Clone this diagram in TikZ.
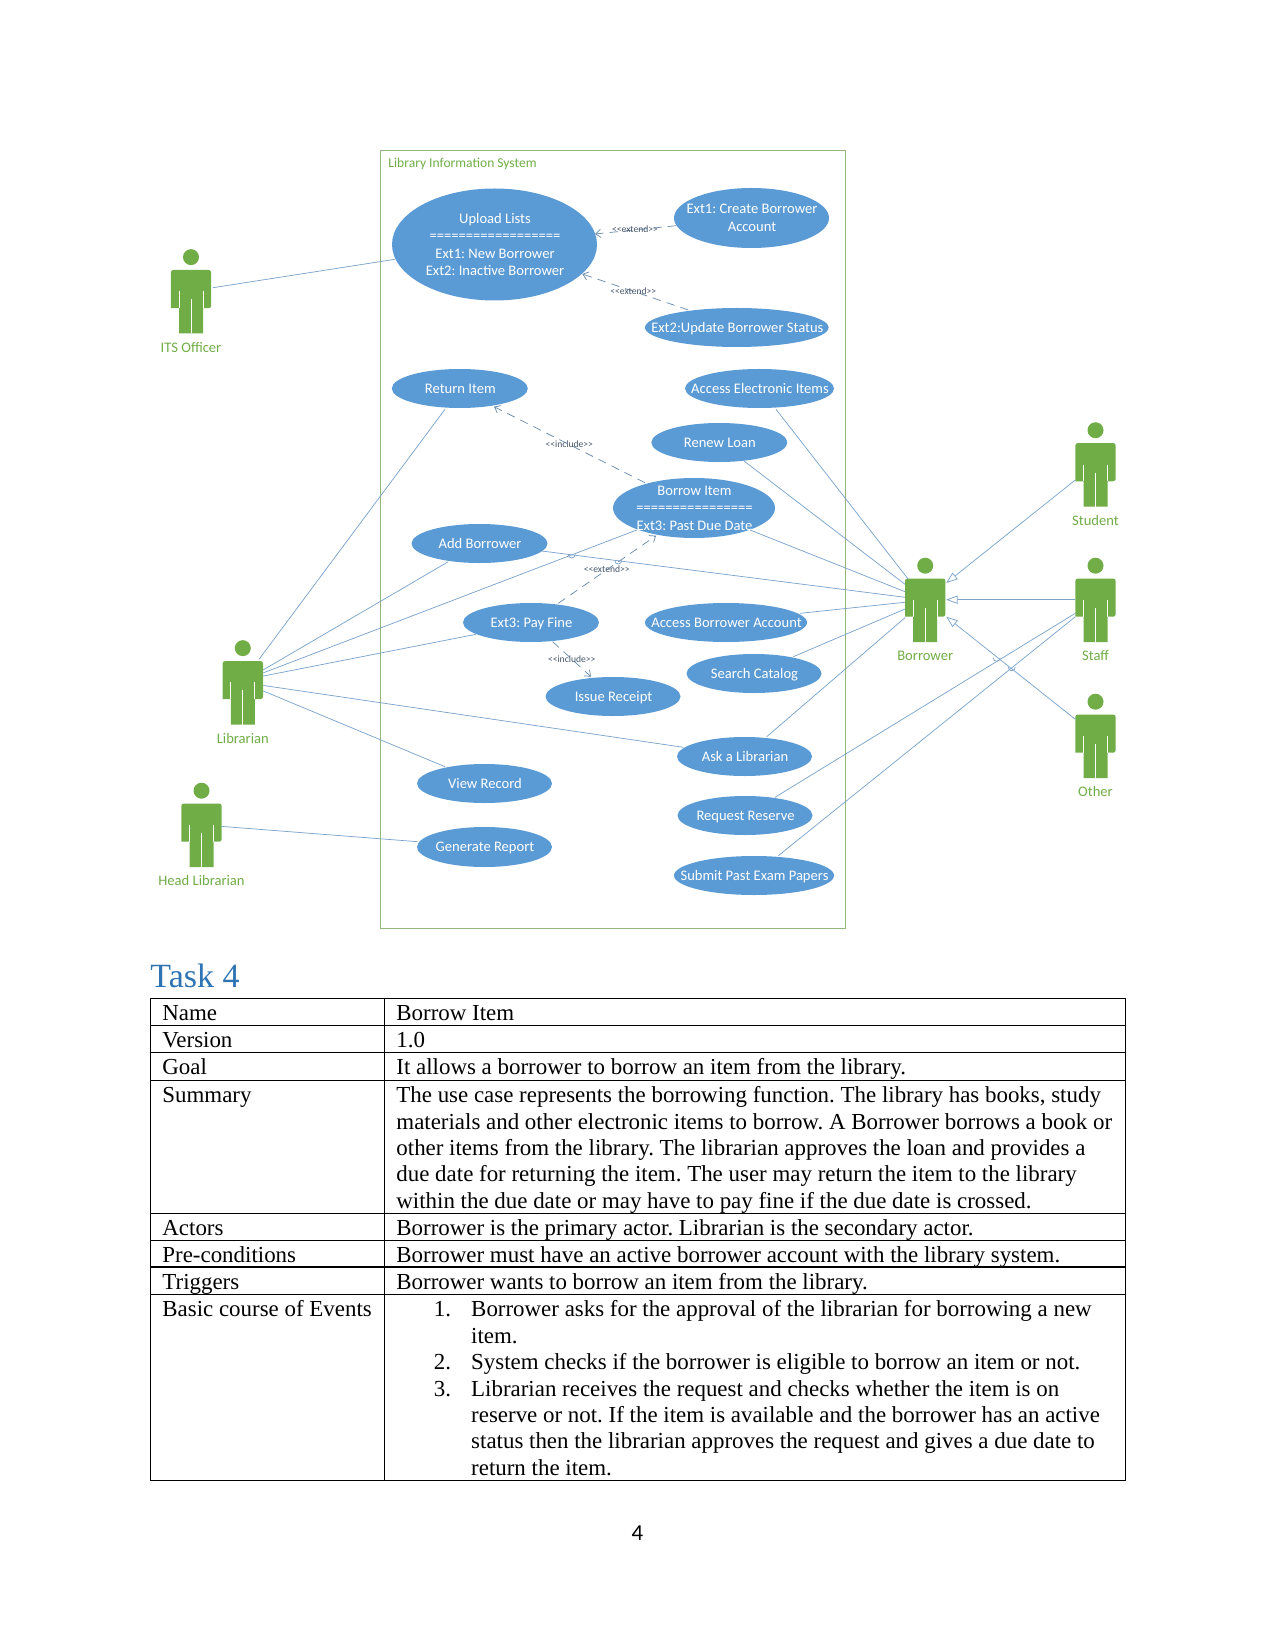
\documentclass[tikz,border=0pt]{standalone}
\usepackage{fontspec}
\setmainfont{Liberation Serif}
\newfontfamily\carlito{Carlito}
\usetikzlibrary{shapes.geometric,arrows.meta}
\frenchspacing
\definecolor{ucblue}{HTML}{5B9BD5}
\definecolor{acgreen}{HTML}{70AD47}
\definecolor{framegreen}{HTML}{93B77A}
\definecolor{linkblue}{HTML}{7BA3CC}
\definecolor{stereo}{HTML}{44546A}
\definecolor{headblue}{HTML}{2E74B5}
\tikzset{
  x=0.48pt,y=-0.48pt,
  ucase/.style={ellipse,fill=ucblue,inner sep=0pt,outer sep=0pt},
  uctext/.style={text=white,font=\carlito\fontsize{7.0}{8.4}\selectfont,align=center,inner sep=0pt,text depth=0pt},
  actorbody/.style={rectangle,inner sep=0pt,outer sep=0pt,minimum width=19.4pt,minimum height=30.48pt},
  actorlabel/.style={text=acgreen,font=\carlito\fontsize{7.0}{8.4}\selectfont,inner sep=0pt,text depth=0pt},
  link/.style={draw=linkblue,line width=0.35pt},
  gen/.style={link,-{Triangle[open,fill=white,length=5.5pt,width=4pt]}},
  dep/.style={draw=linkblue!85!black,line width=0.35pt,dash pattern=on 4pt off 3pt,-{Straight Barb[length=2.5pt,width=4pt]}},
  stereotype/.style={text=stereo,font=\carlito\fontsize{4.6}{5}\selectfont,inner sep=0pt},
  cell/.style={anchor=base west,inner sep=0pt,font=\fontsize{11}{12.64}\selectfont},
  rule/.style={draw=black,line width=0.55pt},
}
% name, x, y, half width, half height, text
\newcommand{\usecase}[6]{%
  \node[ucase,minimum width=#4*0.96pt,minimum height=#5*0.96pt] (#1) at (#2,#3) {};
  \node[uctext] (#1-t) at (#2+0.5,#3) {#6};}
% name, x, y (body centre), label
\newcommand{\actor}[4]{%
  \node[actorbody] (#1) at (#2,#3) {};
  \begin{scope}[shift={(#2,#3)}]
    \fill[acgreen] (0,-44.6) circle[radius=8];
    \fill[acgreen,rounded corners=1.2pt] (-20.2,6.4) -- (-20.2,-31.75) -- (20.2,-31.75) -- (20.2,6.4) [sharp corners] -- (12,6.4) -- (12,31.75) -- (-12,31.75) -- (-12,6.4) -- cycle;
    \draw[white,line width=0.45pt] (0,-2.3) -- (0,31.75) (-12,-10.3) -- (-12,6.4) (12,-10.3) -- (12,6.4);
  \end{scope}
  \node[actorlabel] (#1-l) at (#2,#3+45.5) {#4};}
\newcommand{\relpt}[3]{([shift={(#2,#3)}]#1.center)}
\newcommand{\hop}[2]{\draw[link] (#1-3.5,#2+0.5) arc[start angle=180,end angle=0,radius=3.5];}
\begin{document}
\begin{tikzpicture}
\useasboundingbox (0,0) rectangle (1275,1650);
% system frame
\node[draw=framegreen,line width=0.45pt,inner sep=0pt,outer sep=0pt,minimum width=223pt,minimum height=373.44pt] (system) at (612.8,539) {};
\node[anchor=west,text=acgreen,font=\carlito\fontsize{6.5}{8}\selectfont,inner sep=0pt] (systitle) at (388,164.3) {Library Information System};
% use cases
\usecase{upload}{494.5}{244.5}{102.5}{56}{Upload Lists\\==================\\Ext1: New Borrower\\Ext2: Inactive Borrower}
\usecase{extone}{751.5}{218}{77.5}{30}{Ext1: Create Borrower\\Account}
\usecase{exttwo}{736.8}{327.5}{91.8}{19.5}{Ext2:Update Borrower Status}
\usecase{return}{459.8}{388.5}{68}{19.5}{Return Item}
\usecase{electronic}{759.5}{388.5}{74.5}{19.5}{Access Electronic Items}
\usecase{renew}{719.3}{442.5}{68}{19.5}{Renew Loan}
\usecase{borrow}{694}{508}{81}{30}{Borrow Item\\================\\Ext3: Past Due Date}
\usecase{add}{479.5}{543.5}{68}{19.5}{Add Borrower}
\usecase{payfine}{531}{622.5}{68}{19.5}{Ext3: Pay Fine}
\usecase{account}{726}{622.5}{81}{19.5}{Access Borrower Account}
\usecase{search}{754}{673.5}{67.5}{19.5}{Search Catalog}
\usecase{receipt}{613}{696.5}{67.5}{19.5}{Issue Receipt}
\usecase{ask}{744.5}{756.5}{67.5}{19.5}{Ask a Librarian}
\usecase{view}{484.5}{783.5}{67.5}{19.5}{View Record}
\usecase{report}{484.5}{847}{67.5}{20}{Generate Report}
\usecase{reserve}{745}{815.5}{67.5}{19.5}{Request Reserve}
\usecase{papers}{754}{875.5}{80}{19.5}{Submit Past Exam Papers}
% actors
\actor{its}{191}{301.75}{ITS Officer}
\actor{librarian}{242.8}{692.75}{Librarian}
\actor{headlib}{201.5}{835.3}{Head Librarian}
\actor{borrower}{925.2}{610.3}{Borrower}
\actor{student}{1095.5}{474.85}{Student}
\actor{staff}{1095.5}{610.3}{Staff}
\actor{other}{1095.5}{746.3}{Other}
% associations
\draw[link] \relpt{its}{21.7}{-14} -- \relpt{upload}{-99.5}{14.8};
\draw[link] \relpt{librarian}{16.2}{-33.4} -- \relpt{return}{-14.8}{20.8};
\draw[link] \relpt{librarian}{20.5}{-22.9} -- \relpt{add}{-31.2}{18.2};
\draw[link] \relpt{librarian}{20.5}{-19.9} -- \relpt{borrow}{-57.3}{22};
\draw[link] \relpt{librarian}{20.5}{-16.7} -- \relpt{payfine}{-55}{11.8};
\draw[link] \relpt{librarian}{20.5}{-7.3} -- \relpt{ask}{-61.2}{-9.2};
\draw[link] \relpt{librarian}{20.5}{-1.8} -- \relpt{view}{-39.5}{-16.8};
\draw[link] \relpt{headlib}{20.2}{-8.9} -- \relpt{report}{-66.8}{-5.3};
\draw[link] \relpt{electronic}{16.5}{20.8} -- \relpt{borrower}{-16.9}{-31};
\draw[link] \relpt{renew}{24.7}{18.5} -- \relpt{borrower}{-20.2}{-26};
\draw[link] \relpt{borrow}{56}{22} -- \relpt{borrower}{-20.2}{-18.6};
\draw[link] \relpt{add}{62.2}{7.5} -- \relpt{borrower}{-20.2}{-13};
\draw[link] \relpt{account}{74}{-9.2} -- \relpt{borrower}{-20.2}{-8};
\draw[link] \relpt{search}{39.3}{-16.8} -- \relpt{borrower}{-20.2}{-1.3};
\draw[link] \relpt{ask}{22.2}{-19.8} -- \relpt{borrower}{-20.2}{7.4};
\draw[link] \relpt{staff}{-20.2}{3} -- \relpt{reserve}{30}{-18.2};
\draw[link] \relpt{staff}{-20.2}{6.4} -- \relpt{papers}{24.3}{-19.8};
% generalisations
\draw[gen] \relpt{student}{-20.2}{5.15} -- \relpt{borrower}{21}{-27.3};
\draw[gen] \relpt{staff}{-20.2}{-10.6} -- \relpt{borrower}{21}{-10.6};
\draw[gen] \relpt{other}{-20.2}{-27} -- \relpt{borrower}{21}{6.4};
% line jumps
\hop{571.7}{554}
\hop{618.3}{560}
\hop{996.7}{657.3}
\hop{1011.7}{666.7}
% dependencies
\draw[dep] \relpt{extone}{-75.5}{7.7} -- \relpt{upload}{100.5}{-10.5};
\draw[dep] \relpt{exttwo}{-48.5}{-17.5} -- \relpt{upload}{87.8}{29.5};
\draw[dep] \relpt{borrow}{-49}{-25.3} -- \relpt{return}{34.2}{18.2};
\draw[dep] \relpt{payfine}{27.3}{-19.2} -- \relpt{borrow}{-38}{27.7};
\draw[dep] \relpt{payfine}{21.7}{19.2} -- \relpt{receipt}{-22}{-19.8};
\node[stereotype] (s1) at (635,229) {<<extend>>};
\node[stereotype] (s2) at (633.3,291.7) {<<extend>>};
\node[stereotype] (s3) at (569.3,444.3) {<<include>>};
\node[stereotype] (s4) at (606.7,569) {<<extend>>};
\node[stereotype] (s5) at (571.7,659) {<<include>>};
% heading
\node[anchor=base west,inner sep=0pt,text=headblue,font=\fontsize{16.3}{18}\selectfont] (task) at (150,987) {Task 4};
% table rules
\draw[rule] (150.3,998.3) rectangle (1125.4,1480.4);
\draw[rule] (384.3,998.3) -- (384.3,1480.4);
\draw[rule] (150.3,1025.3) -- (1125.4,1025.3);
\draw[rule] (150.3,1052.3) -- (1125.4,1052.3);
\draw[rule] (150.3,1080.3) -- (1125.4,1080.3);
\draw[rule] (150.3,1213.3) -- (1125.4,1213.3);
\draw[rule] (150.3,1240.3) -- (1125.4,1240.3);
\draw[rule] (150.3,1267) -- (1125.4,1267);
\draw[rule] (150.3,1294.6) -- (1125.4,1294.6);
% table left column
\node[cell] (l1) at (162,1020) {Name};
\node[cell] (l2) at (162,1047) {Version};
\node[cell] (l3) at (162,1074) {Goal};
\node[cell] (l4) at (162,1102.6) {Summary};
\node[cell] (l5) at (162,1235) {Actors};
\node[cell] (l6) at (162,1262) {Pre-conditions};
\node[cell] (l7) at (162,1289) {Triggers};
\node[cell] (l8) at (162,1316) {Basic course of Events};
% table right column
\node[cell] (r1) at (396,1020) {Borrow Item};
\node[cell] (r2) at (396,1047) {1.0};
\node[cell] (r3) at (396,1074) {It allows a borrower to borrow an item from the library.};
\node[cell] (r4a) at (396,1102.6) {The use case represents the borrowing function. The library has books, study};
\node[cell] (r4b) at (396,1129) {materials and other electronic items to borrow. A Borrower borrows a book or};
\node[cell] (r4c) at (396,1155.3) {other items from the library. The librarian approves the loan and provides a};
\node[cell] (r4d) at (396,1181.6) {due date for returning the item. The user may return the item to the library};
\node[cell] (r4e) at (396,1208) {within the due date or may have to pay fine if the due date is crossed.};
\node[cell] (r5) at (396,1235) {Borrower is the primary actor. Librarian is the secondary actor.};
\node[cell] (r6) at (396,1262) {Borrower must have an active borrower account with the library system.};
\node[cell] (r7) at (396,1289) {Borrower wants to borrow an item from the library.};
\node[cell] (n1) at (433.4,1316) {1.};
\node[cell] (i1a) at (470.8,1316) {Borrower asks for the approval of the librarian for borrowing a new};
\node[cell] (i1b) at (470.8,1343) {item.};
\node[cell] (n2) at (433.4,1369.5) {2.};
\node[cell] (i2) at (470.8,1369.5) {System checks if the borrower is eligible to borrow an item or not.};
\node[cell] (n3) at (433.4,1396) {3.};
\node[cell] (i3a) at (470.8,1396) {Librarian receives the request and checks whether the item is on};
\node[cell] (i3b) at (470.8,1422.3) {reserve or not. If the item is available and the borrower has an active};
\node[cell] (i3c) at (470.8,1448.6) {status then the librarian approves the request and gives a due date to};
\node[cell] (i3d) at (470.8,1475) {return the item.};
% page number
\node[inner sep=0pt,font=\carlito\fontsize{11}{13}\selectfont] (page) at (637.5,1533) {4};
\end{tikzpicture}
\end{document}
